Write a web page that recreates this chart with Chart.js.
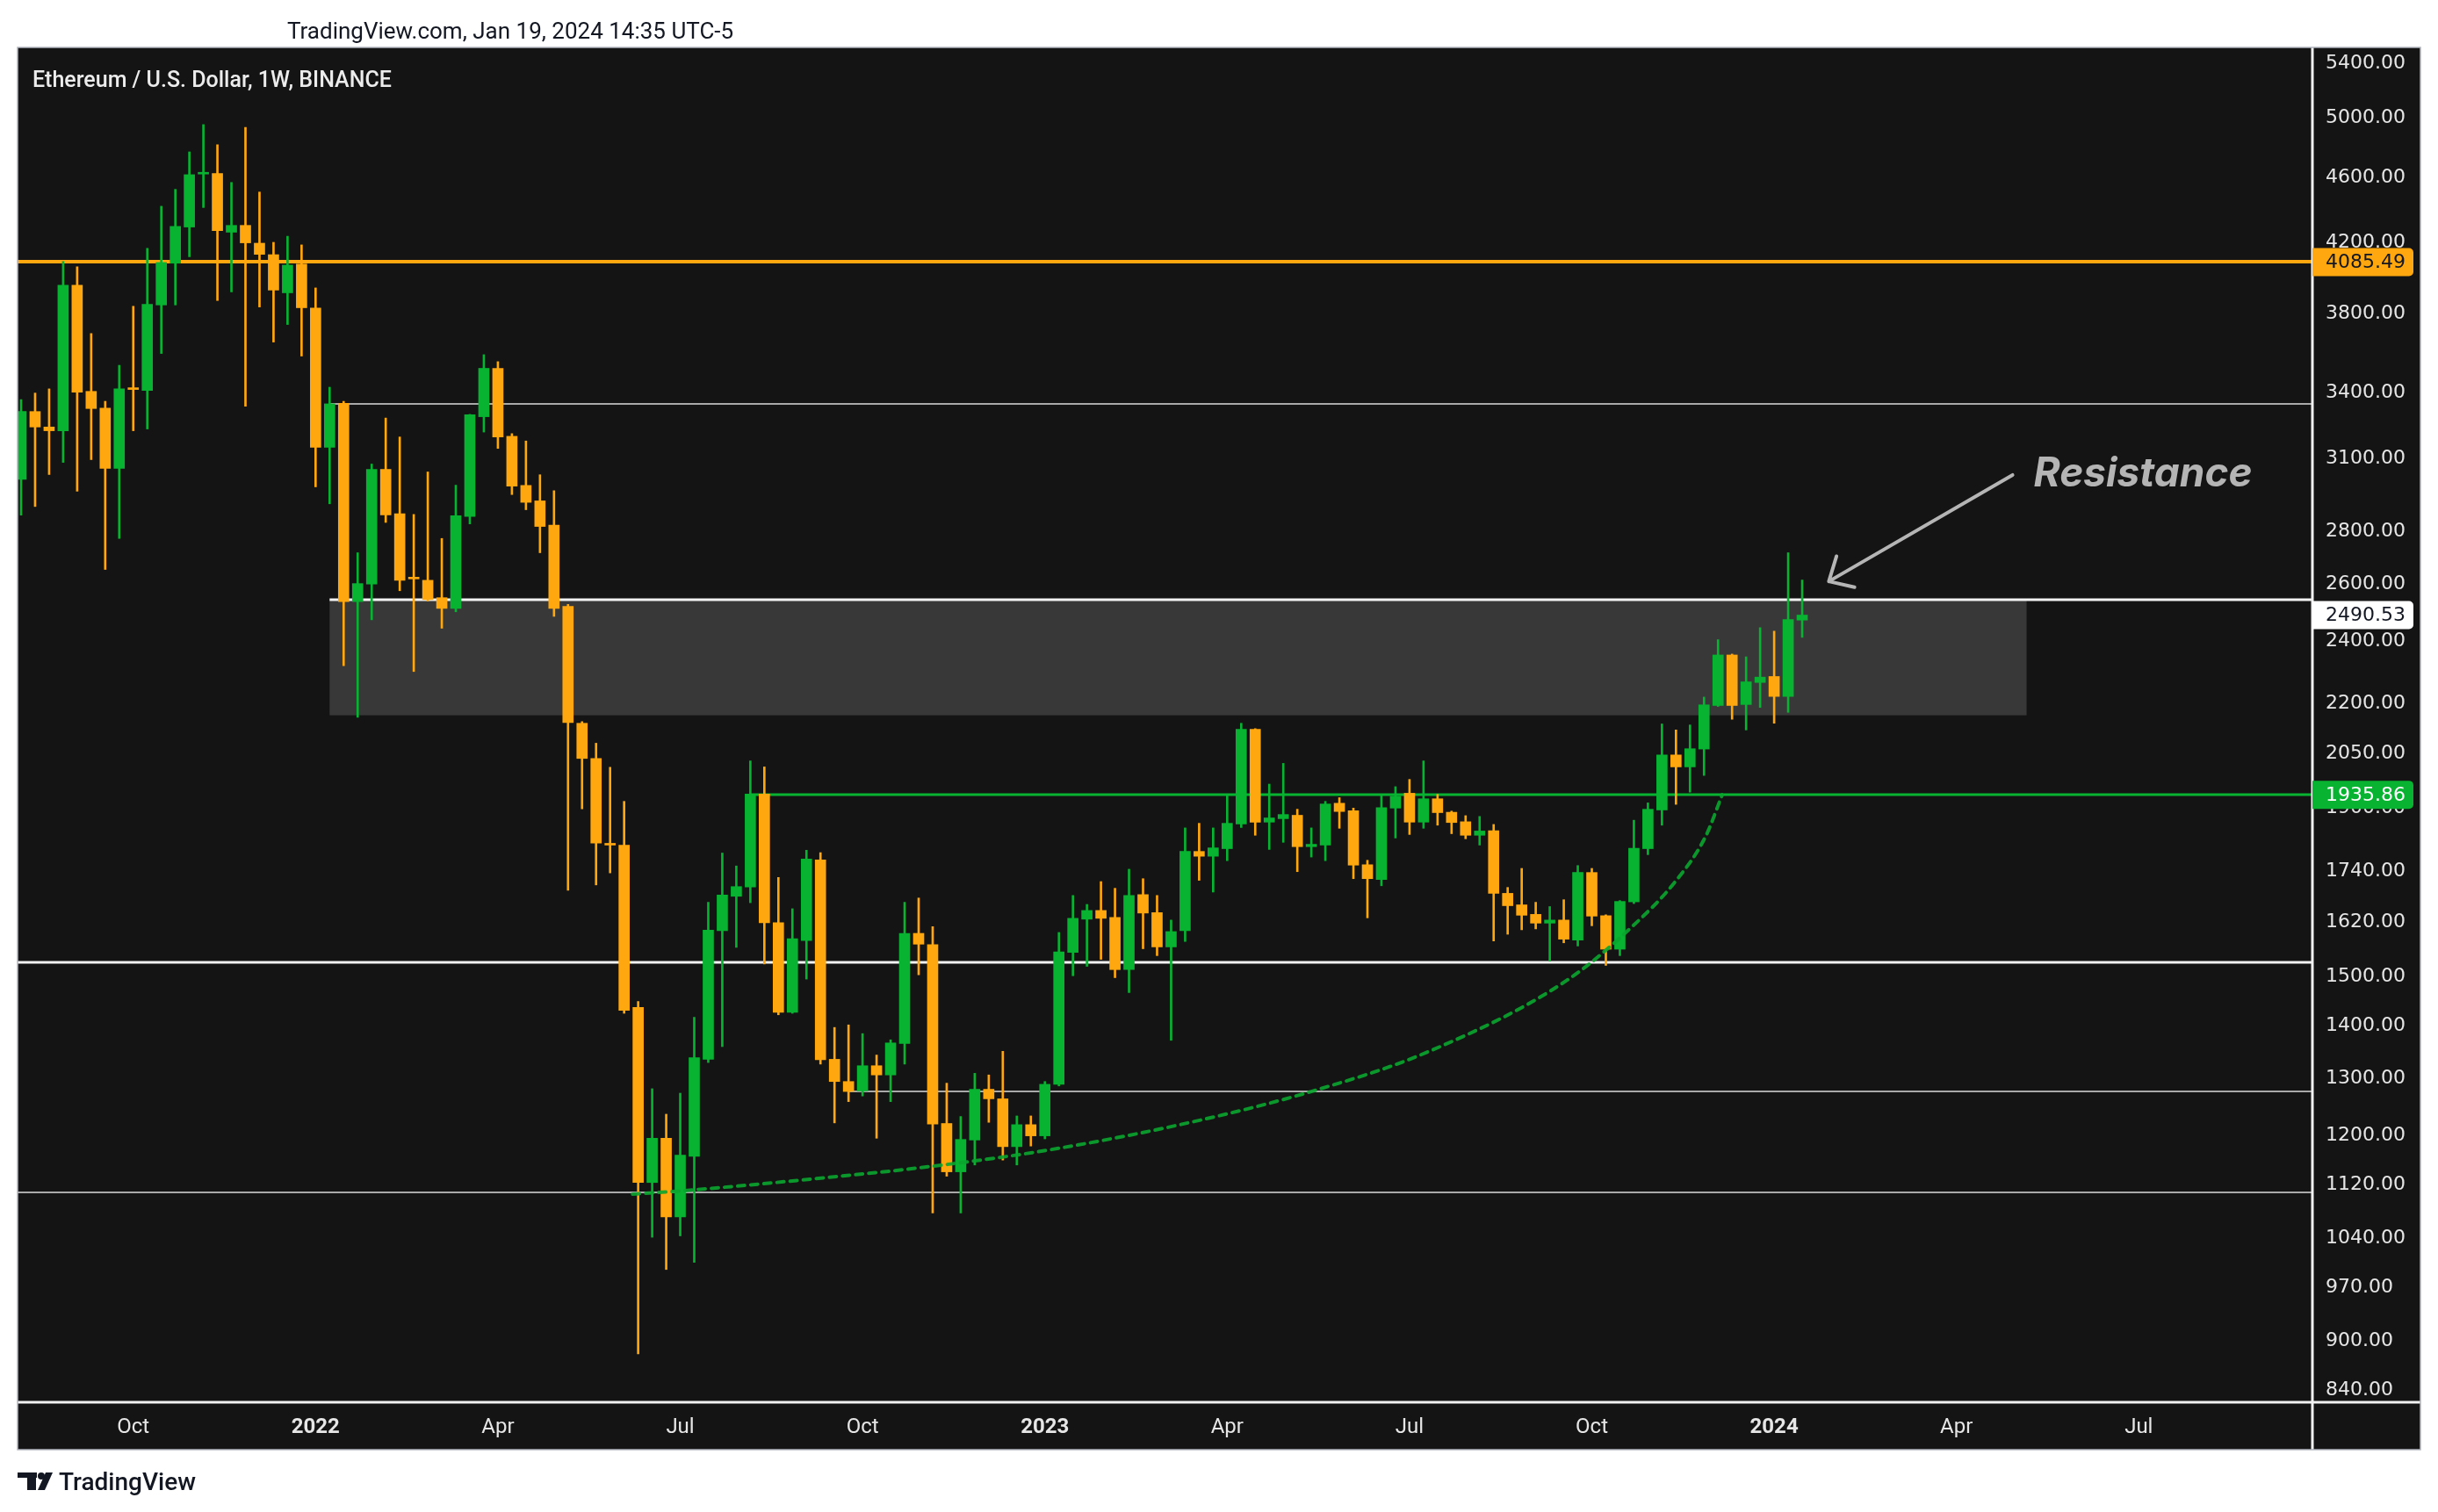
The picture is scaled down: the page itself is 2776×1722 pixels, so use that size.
<!DOCTYPE html>
<html>
<head>
<meta charset="utf-8">
<title>Ethereum / U.S. Dollar, 1W, BINANCE</title>
<script src="https://cdn.jsdelivr.net/npm/chart.js@4.4.1/dist/chart.umd.min.js"></script>
<style>
  html, body { margin: 0; padding: 0; background: #ffffff; }
  #wrap { width: 2776px; height: 1722px; }
</style>
</head>
<body>
<div id="wrap"><canvas id="ethChart" width="2776" height="1722"></canvas></div>
<script>
// weekly candles, first one is the week of Aug 9 2021 (week index -21, Jan 3 2022 = 0)
const firstWeek = -21;

const opens = [
  3013, 3313, 3242, 3225, 3955, 3408, 3329, 3059, 3422, 3412,
  3847, 4079, 4291, 4622, 4625, 4260, 4301, 4195, 4128, 3913,
  4074, 3830, 3151, 3351, 2538, 2601, 3055, 2871, 2625, 2615,
  2552, 2514, 2860, 3289, 3520, 3200, 2987, 2923, 2825, 2521,
  2140, 2037, 1807, 1804, 1437, 1124, 1196, 1071, 1166, 1336,
  1600, 1679, 1701, 1938, 1618, 1427, 1578, 1767, 1336, 1295,
  1278, 1324, 1307, 1366, 1594, 1569, 1221, 1141, 1193, 1281,
  1264, 1182, 1219, 1200, 1290, 1552, 1626, 1646, 1630, 1515,
  1683, 1641, 1564, 1600, 1788, 1776, 1795, 1858, 2122, 1863,
  1872, 1881, 1800, 1804, 1913, 1893, 1755, 1719, 1900, 1940,
  1863, 1925, 1889, 1864, 1829, 1841, 1686, 1659, 1637, 1617,
  1624, 1579, 1736, 1634, 1559, 1666, 1795, 1895, 2047, 2013,
  2064, 2194, 2355, 2197, 2266, 2285, 2222, 2473
];
const highs = [
  3369, 3400, 3420, 4089, 4058, 3696, 3361, 3535, 3840, 4165,
  4418, 4524, 4768, 4954, 4816, 4568, 4935, 4507, 4200, 4236,
  4185, 3940, 3428, 3361, 2718, 3078, 3283, 3197, 2868, 3044,
  2773, 2988, 3300, 3588, 3553, 3212, 3179, 3032, 2965, 2528,
  2145, 2081, 2012, 1918, 1449, 1282, 1237, 1274, 1417, 1665,
  1784, 1752, 2030, 2013, 1724, 1650, 1791, 1785, 1397, 1402,
  1385, 1344, 1373, 1665, 1675, 1609, 1292, 1233, 1310, 1307,
  1351, 1234, 1234, 1295, 1596, 1681, 1660, 1714, 1698, 1744,
  1721, 1681, 1624, 1848, 1860, 1848, 1933, 2140, 2124, 1965,
  2023, 1897, 1848, 1918, 1928, 1900, 1766, 1933, 1958, 1978,
  2030, 1937, 1892, 1880, 1878, 1857, 1700, 1746, 1665, 1655,
  1671, 1753, 1746, 1636, 1669, 1868, 1914, 2138, 2120, 2135,
  2220, 2406, 2358, 2349, 2447, 2435, 2718, 2616
];
const lows = [
  2865, 2900, 3033, 3085, 2963, 3097, 2655, 2773, 3225, 3233,
  3594, 3847, 4116, 4410, 3871, 3918, 3338, 3836, 3652, 3743,
  3581, 2981, 2911, 2320, 2158, 2474, 2836, 2577, 2301, 2540,
  2445, 2502, 2830, 3219, 3146, 2949, 2887, 2718, 2486, 1693,
  1898, 1706, 1735, 1425, 884, 1041, 995, 1043, 1005, 1330,
  1360, 1563, 1664, 1527, 1422, 1425, 1495, 1327, 1222, 1259,
  1269, 1196, 1259, 1327, 1504, 1077, 1134, 1077, 1152, 1223,
  1160, 1152, 1183, 1195, 1287, 1502, 1522, 1537, 1498, 1467,
  1560, 1545, 1372, 1576, 1717, 1689, 1765, 1849, 1829, 1793,
  1811, 1738, 1774, 1765, 1847, 1721, 1629, 1704, 1822, 1831,
  1847, 1855, 1833, 1820, 1804, 1577, 1592, 1602, 1604, 1533,
  1573, 1566, 1611, 1524, 1545, 1662, 1780, 1855, 1910, 1943,
  1989, 2191, 2152, 2120, 2188, 2140, 2173, 2414
];
const closes = [
  3313, 3242, 3225, 3955, 3404, 3327, 3059, 3420, 3417, 3851,
  4083, 4295, 4618, 4628, 4270, 4301, 4197, 4130, 3928, 4068,
  3832, 3151, 3349, 2538, 2603, 3055, 2866, 2615, 2620, 2545,
  2514, 2863, 3298, 3520, 3197, 2984, 2917, 2820, 2514, 2142,
  2037, 1809, 1804, 1431, 1124, 1196, 1071, 1168, 1339, 1601,
  1682, 1702, 1938, 1618, 1427, 1582, 1769, 1335, 1295, 1277,
  1324, 1307, 1367, 1594, 1570, 1220, 1141, 1194, 1281, 1264,
  1182, 1219, 1200, 1290, 1553, 1628, 1646, 1628, 1515, 1681,
  1640, 1564, 1598, 1788, 1776, 1797, 1860, 2122, 1863, 1874,
  1883, 1800, 1806, 1911, 1891, 1754, 1721, 1901, 1932, 1863,
  1925, 1888, 1862, 1829, 1840, 1686, 1657, 1635, 1617, 1624,
  1581, 1736, 1633, 1559, 1667, 1796, 1897, 2047, 2013, 2065,
  2196, 2355, 2194, 2268, 2283, 2222, 2475, 2490.53
];

// price axis ticks and time axis ticks (week index of first bar of each quarter)
const priceTicks = [5400, 5000, 4600, 4200, 3800, 3400, 3100, 2800, 2600, 2400, 2200, 2050,
  1900, 1740, 1620, 1500, 1400, 1300, 1200, 1120, 1040, 970, 900, 840];
const timeTicks = [-13, 0, 13, 26, 39, 52, 65, 78, 91, 104, 117, 130];
const timeLabels = ['Oct', '2022', 'Apr', 'Jul', 'Oct', '2023', 'Apr', 'Jul', 'Oct', '2024', 'Apr', 'Jul'];

// drawn levels: price, first week (null = from left edge)
const levelPrices = [4085.49, 3350, 2546, 1935.86, 1531, 1277, 1108];
const levelStarts = [null, 1, 1, 31, null, 38, null];
const levelStyles = [
  { color: '#ffa70f', width: 4 },
  { color: '#a9a9a9', width: 2 },
  { color: '#f2f2f2', width: 3 },
  { color: '#08b332', width: 3 },
  { color: '#f2f2f2', width: 3 },
  { color: '#a9a9a9', width: 2 },
  { color: '#a9a9a9', width: 2 }
];

// resistance box
const zoneWeeks = [1, 122];
const zonePrices = [2164, 2546];

// dotted support curve
const curveWeeks = [22.6, 25.5, 35.6, 44, 52.4, 62.2, 71, 79.4, 89.2, 93.8, 97, 99.1, 100.3];
const curvePrices = [1106, 1110, 1130, 1150, 1177, 1222, 1277, 1351, 1492, 1607, 1716, 1825, 1936];

// arrow + label
const arrowFrom = { week: 121.0, price: 3031 };
const arrowTo = { week: 107.9, price: 2611 };
const noteAt = { week: 122.5, price: 2982 };

const GREEN = '#08b332';
const ORANGE = '#ffa70f';
const AXIS_FONT = '"DejaVu Sans", sans-serif';

const wickData = opens.map((o, k) => ({ x: firstWeek + k, y: [lows[k], highs[k]] }));
const bodyData = opens.map((o, k) => ({ x: firstWeek + k, y: [o, closes[k]] }));
const curveData = curveWeeks.map((w, k) => ({ x: w, y: curvePrices[k] }));
const candleColor = (c) => closes[c.dataIndex] >= opens[c.dataIndex] ? GREEN : ORANGE;

function priceTag(c, x0, yPix, text, bg, fg) {
  const h = 32, x1 = 2748, r = 5, t = yPix - h / 2, b = yPix + h / 2;
  c.fillStyle = bg;
  c.beginPath();
  c.moveTo(x0, t);
  c.lineTo(x1 - r, t);
  c.arcTo(x1, t, x1, t + r, r);
  c.lineTo(x1, b - r);
  c.arcTo(x1, b, x1 - r, b, r);
  c.lineTo(x0, b);
  c.closePath();
  c.fill();
  c.fillStyle = fg;
  c.font = '22px ' + AXIS_FONT;
  c.textAlign = 'left';
  c.textBaseline = 'middle';
  c.fillText(text, 2648, yPix + 1);
}

const chartDecor = {
  id: 'chartDecor',
  beforeDraw(chart) {
    const c = chart.ctx;
    c.save();
    c.fillStyle = '#ffffff';
    c.fillRect(0, 0, chart.width, chart.height);
    c.fillStyle = '#141414';
    c.fillRect(20, 54, 2736, 1597);
    c.restore();
  },
  beforeDatasetsDraw(chart) {
    const { ctx: c, chartArea: a, scales: { x, y } } = chart;
    c.save();
    c.beginPath();
    c.rect(a.left, a.top, a.right - a.left, a.bottom - a.top);
    c.clip();
    const zx0 = x.getPixelForValue(zoneWeeks[0]);
    const zx1 = x.getPixelForValue(zoneWeeks[1]);
    const zy0 = y.getPixelForValue(zonePrices[1]);
    const zy1 = y.getPixelForValue(zonePrices[0]);
    c.fillStyle = '#383838';
    c.fillRect(zx0, zy0, zx1 - zx0, zy1 - zy0);
    levelPrices.forEach((p, k) => {
      const py = Math.round(y.getPixelForValue(p));
      const px = levelStarts[k] === null ? a.left : x.getPixelForValue(levelStarts[k]);
      c.strokeStyle = levelStyles[k].color;
      c.lineWidth = levelStyles[k].width;
      c.beginPath();
      c.moveTo(px, py);
      c.lineTo(a.right, py);
      c.stroke();
    });
    c.restore();
  },
  afterDatasetsDraw(chart) {
    const { ctx: c, scales: { x, y } } = chart;
    const tx = x.getPixelForValue(arrowFrom.week), ty = y.getPixelForValue(arrowFrom.price);
    const hx = x.getPixelForValue(arrowTo.week), hy = y.getPixelForValue(arrowTo.price);
    const ang = Math.atan2(ty - hy, tx - hx);
    const len = 30, spread = 0.75;
    c.save();
    c.strokeStyle = '#b5b5b5';
    c.lineWidth = 4;
    c.lineCap = 'round';
    c.lineJoin = 'round';
    c.beginPath();
    c.moveTo(tx, ty);
    c.lineTo(hx, hy);
    c.moveTo(hx + len * Math.cos(ang - spread), hy + len * Math.sin(ang - spread));
    c.lineTo(hx, hy);
    c.lineTo(hx + len * Math.cos(ang + spread), hy + len * Math.sin(ang + spread));
    c.stroke();
    c.fillStyle = '#b4b4b4';
    c.font = 'italic 700 46px Inter';
    c.textAlign = 'left';
    c.textBaseline = 'alphabetic';
    c.fillText('Resistance', x.getPixelForValue(noteAt.week), y.getPixelForValue(noteAt.price));
    c.restore();
  },
  afterDraw(chart) {
    const { ctx: c, chartArea: a, scales: { y } } = chart;
    c.save();
    // pane separators
    c.strokeStyle = '#f2f2f2';
    c.lineWidth = 3;
    c.beginPath();
    c.moveTo(a.right, 54);
    c.lineTo(a.right, 1651);
    c.moveTo(20, a.bottom);
    c.lineTo(2756, a.bottom);
    c.stroke();
    // outer frame
    c.strokeStyle = '#b2b5be';
    c.lineWidth = 1.5;
    c.strokeRect(20, 54, 2736, 1597);

    // price tags on the axis
    priceTag(c, a.right, y.getPixelForValue(levelPrices[0]), levelPrices[0].toFixed(2), ORANGE, '#131722');
    priceTag(c, a.right, y.getPixelForValue(closes[closes.length - 1]), closes[closes.length - 1].toFixed(2), '#ffffff', '#131722');
    priceTag(c, a.right, y.getPixelForValue(levelPrices[3]), levelPrices[3].toFixed(2), GREEN, '#ffffff');

    // texts
    c.textAlign = 'left';
    c.textBaseline = 'alphabetic';
    c.fillStyle = '#131722';
    c.font = '26px Roboto';
    c.fillText('TradingView.com, Jan 19, 2024 14:35 UTC-5', 327, 44);
    c.fillStyle = '#ececec';
    c.font = '500 25px Roboto';
    c.fillText('Ethereum / U.S. Dollar, 1W, BINANCE', 37, 99);

    // TradingView logo
    c.fillStyle = '#131722';
    c.fillRect(20, 1677, 22, 6);
    c.fillRect(31, 1677, 10, 20);
    c.beginPath();
    c.arc(47, 1681, 4, 0, Math.PI * 2);
    c.fill();
    c.beginPath();
    c.moveTo(52, 1677);
    c.lineTo(60, 1677);
    c.lineTo(51, 1697);
    c.lineTo(43, 1697);
    c.closePath();
    c.fill();
    c.font = '500 28px Roboto';
    c.fillText('TradingView', 67, 1697);
    c.restore();
  }
};

new Chart(document.getElementById('ethChart'), {
  type: 'bar',
  data: {
    datasets: [
      {
        label: 'wicks',
        data: wickData,
        backgroundColor: candleColor,
        barThickness: 2,
        grouped: false,
        order: 2
      },
      {
        label: 'bodies',
        data: bodyData,
        backgroundColor: candleColor,
        barThickness: 12,
        minBarLength: 2,
        grouped: false,
        order: 1
      },
      {
        type: 'line',
        label: 'support curve',
        data: curveData,
        borderColor: 'rgba(10,165,45,0.9)',
        borderWidth: 4,
        borderDash: [8, 7],
        borderCapStyle: 'round',
        pointRadius: 0,
        cubicInterpolationMode: 'monotone',
        order: 0
      }
    ]
  },
  options: {
    responsive: false,
    animation: false,
    devicePixelRatio: 1,
    events: [],
    layout: { padding: { left: 20, top: 54, right: 20, bottom: 71 } },
    plugins: { legend: { display: false }, tooltip: { enabled: false } },
    scales: {
      x: {
        type: 'linear',
        min: -21.25,
        max: 142.38,
        offset: false,
        grid: { display: false, drawTicks: false },
        border: { display: false },
        afterBuildTicks: (s) => { s.ticks = timeTicks.map(v => ({ value: v })); },
        afterFit: (s) => { s.height = 54; },
        ticks: {
          autoSkip: false,
          maxRotation: 0,
          padding: 15,
          color: '#e6e6e6',
          callback: (v) => timeLabels[timeTicks.indexOf(v)],
          font: (c) => ({
            family: 'Roboto',
            size: 24,
            weight: c.tick && /^\d{4}$/.test(timeLabels[timeTicks.indexOf(c.tick.value)]) ? 'bold' : 'normal'
          })
        }
      },
      y: {
        type: 'logarithmic',
        position: 'right',
        min: 826,
        max: 5520,
        grid: { display: false, drawTicks: false },
        border: { display: false },
        afterBuildTicks: (s) => { s.ticks = priceTicks.map(v => ({ value: v })); },
        afterFit: (s) => { s.width = 123; },
        ticks: {
          padding: 15,
          color: '#e6e6e6',
          callback: (v) => Number(v).toFixed(2),
          font: { family: 'DejaVu Sans', size: 22 }
        }
      }
    }
  },
  plugins: [chartDecor]
});
</script>
</body>
</html>
